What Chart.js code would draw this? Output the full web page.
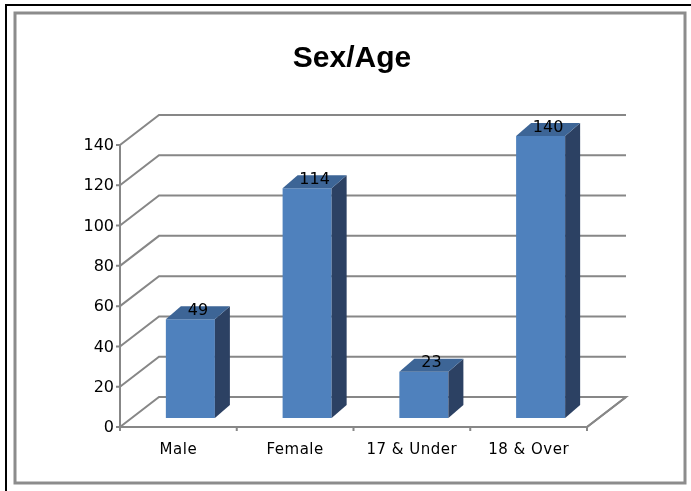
<!DOCTYPE html>
<html lang="en">
<head>
  <meta charset="UTF-8">
  <title>Sex/Age</title>
  <script src="https://cdn.jsdelivr.net/npm/chart.js@4.4.0/dist/chart.umd.min.js"></script>
  <style>
    body { margin: 0; background: #fff; }
    canvas { display: block; }
  </style>
</head>
<body>
  <canvas id="chart" width="691" height="491"></canvas>

  <script>
    /* Data. */
    const categories = ["Male", "Female", "17 & Under", "18 & Over"]
    const counts = [49, 114, 23, 140]
    const yTicks = [0, 20, 40, 60, 80, 100, 120, 140]
    const chartTitle = "Sex/Age"

    /* 3D look: depth of the box, shift of the bar plane, depth of a bar. */
    const wall = { dx: 39, dy: 30 }
    const plane = { dx: 12, dy: 9 }
    const depth = { dx: 15, dy: 13 }
    const gridColor = "#878787"
    const labelFont = "16px 'DejaVu Sans'"

    /* Draws frame, walls, 3D faces and all text around the Chart.js bars. */
    const fake3d = {
      id: "fake3d",
      beforeDatasetsDraw(chart) {
        const { ctx, chartArea: a, scales: { y } } = chart
        ctx.save()
        // frame
        ctx.strokeStyle = "#000"
        ctx.lineWidth = 2
        ctx.beginPath()
        ctx.moveTo(691, 5); ctx.lineTo(6, 5); ctx.lineTo(6, 491)
        ctx.stroke()
        ctx.strokeStyle = "#8c8c8c"
        ctx.lineWidth = 3
        ctx.strokeRect(15, 13, 670, 470)

        // title
        ctx.fillStyle = "#000"
        ctx.font = "bold 30px 'Liberation Sans'"
        ctx.textAlign = "center"
        ctx.textBaseline = "alphabetic"
        ctx.fillText(chartTitle, 352, 67)

        // back wall grid lines and side wall diagonals
        ctx.strokeStyle = gridColor
        ctx.lineWidth = 2
        const right = a.right + wall.dx
        yTicks.forEach(v => {
          const py = y.getPixelForValue(v)
          ctx.beginPath()
          ctx.moveTo(a.left, py)
          ctx.lineTo(a.left + wall.dx, py - wall.dy)
          ctx.lineTo(right, py - wall.dy)
          if (v === 0) ctx.lineTo(a.right, py)
          ctx.stroke()
        })
        ctx.restore()

        // bars are drawn in the shifted plane
        ctx.save()
        ctx.translate(plane.dx, -plane.dy)
      },
      afterDatasetsDraw(chart) {
        const { ctx } = chart
        const bars = chart.getDatasetMeta(0).data
        bars.forEach(b => {
          const x1 = b.x - b.width / 2
          const x2 = b.x + b.width / 2
          const top = b.y
          const base = b.base
          // side face
          ctx.fillStyle = "#2c4163"
          ctx.beginPath()
          ctx.moveTo(x2, top); ctx.lineTo(x2 + depth.dx, top - depth.dy)
          ctx.lineTo(x2 + depth.dx, base - depth.dy); ctx.lineTo(x2, base)
          ctx.closePath(); ctx.fill()
          // top face
          ctx.fillStyle = "#3d6596"
          ctx.beginPath()
          ctx.moveTo(x1, top); ctx.lineTo(x2, top)
          ctx.lineTo(x2 + depth.dx, top - depth.dy); ctx.lineTo(x1 + depth.dx, top - depth.dy)
          ctx.closePath(); ctx.fill()
        })
        // value labels
        ctx.fillStyle = "#000"
        ctx.font = labelFont
        ctx.textAlign = "center"
        ctx.textBaseline = "middle"
        bars.forEach((b, i) => {
          ctx.fillText(String(counts[i]), b.x + depth.dx / 2, b.y - depth.dy / 2 - 2)
        })
        ctx.restore()

        const { chartArea: a, scales: { x, y } } = chart
        ctx.save()
        ctx.strokeStyle = gridColor
        ctx.lineWidth = 2
        // front y axis with tick marks
        ctx.beginPath()
        ctx.moveTo(a.left, a.top); ctx.lineTo(a.left, a.bottom)
        yTicks.forEach(v => {
          const py = y.getPixelForValue(v)
          ctx.moveTo(a.left - 4, py); ctx.lineTo(a.left, py)
        })
        // front floor edge with category tick marks
        ctx.moveTo(a.left, a.bottom); ctx.lineTo(a.right, a.bottom)
        ctx.lineTo(a.right + wall.dx, a.bottom - wall.dy)
        const step = (a.right - a.left) / categories.length
        for (let i = 0; i <= categories.length; i++) {
          const px = a.left + i * step
          ctx.moveTo(px, a.bottom); ctx.lineTo(px, a.bottom + 4)
        }
        ctx.stroke()

        // tick labels
        ctx.fillStyle = "#000"
        ctx.font = labelFont
        ctx.textAlign = "right"
        ctx.textBaseline = "middle"
        yTicks.forEach(v => ctx.fillText(String(v), a.left - 6, y.getPixelForValue(v) + 1))
        ctx.textAlign = "center"
        ctx.font = "15px 'DejaVu Sans'"
        ctx.letterSpacing = "0.5px"
        categories.forEach((c, i) => ctx.fillText(c, x.getPixelForValue(i), a.bottom + 23))
        ctx.restore()
      }
    }

    const ctx = document.getElementById("chart").getContext("2d")
    new Chart(ctx, {
      type: "bar",
      data: {
        labels: categories,
        datasets: [{
          data: counts,
          backgroundColor: "#4f81bd",
          barPercentage: 0.42,
          categoryPercentage: 1
        }]
      },
      options: {
        responsive: false,
        animation: false,
        layout: { padding: { left: 120, right: 104, top: 145, bottom: 64 } },
        plugins: { legend: { display: false }, title: { display: false }, tooltip: { enabled: false } },
        scales: {
          x: { display: false },
          y: { display: false, min: 0, max: 140, ticks: { stepSize: 20 } }
        }
      },
      plugins: [fake3d]
    })
  </script>
</body>
</html>
